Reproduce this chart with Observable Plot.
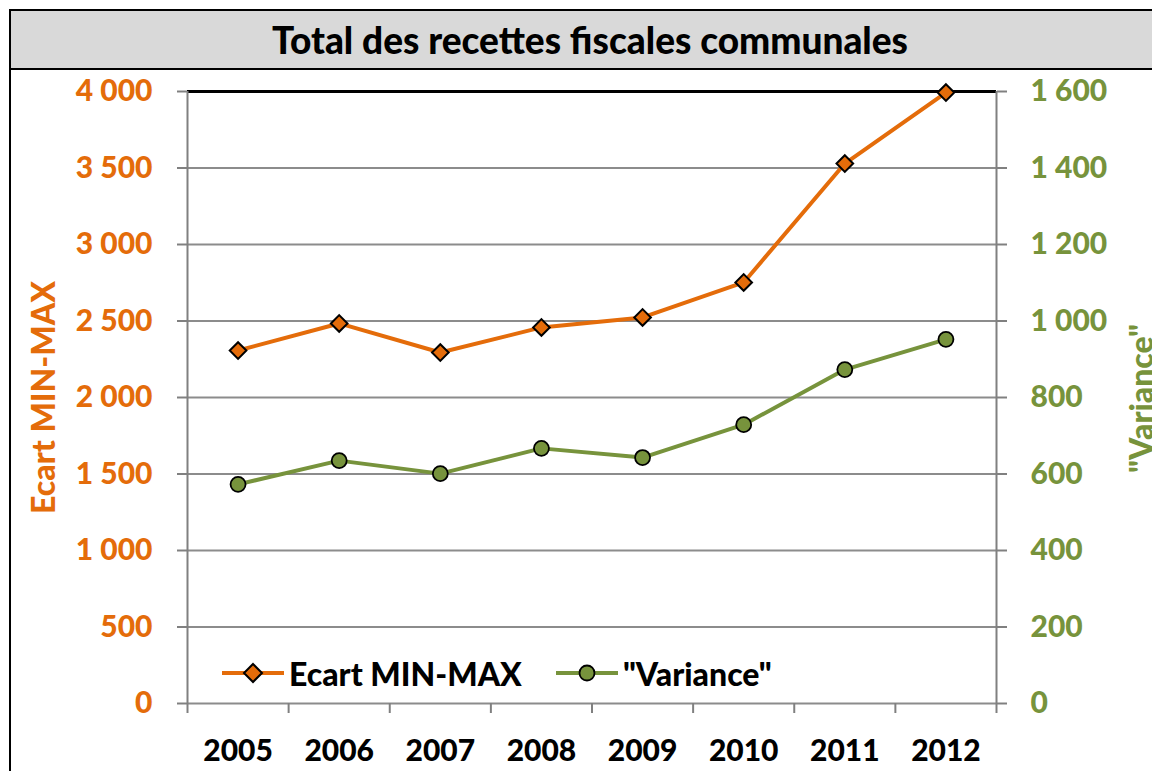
<!DOCTYPE html>
<html>
<head>
<meta charset="utf-8">
<script src="https://cdn.jsdelivr.net/npm/d3@7"></script>
<script src="https://cdn.jsdelivr.net/npm/@observablehq/plot@0.6"></script>
<style>
  html, body { margin: 0; padding: 0; background: #fff; }
  #wrap { position: relative; width: 1152px; height: 771px; overflow: hidden; font-family: Lato, "Open Sans", sans-serif; font-weight: 900; }
  #frame { position: absolute; left: 9px; top: 9px; width: 1200px; height: 800px; border-left: 2px solid #000; border-top: 2px solid #000; box-sizing: border-box; }
  #title { position: absolute; left: 9px; top: 9px; width: 1200px; height: 61px; background: #d9d9d9; border-top: 2px solid #000; border-left: 2px solid #000; border-bottom: 2px solid #000; box-sizing: border-box; }
  #title span { position: absolute; left: 0; width: 1158px; top: 0; height: 57px; line-height: 57px; text-align: center; font-size: 37px; color: #000; }
  #chart { position: absolute; left: 0; top: 70px; }
  .ylab { position: absolute; font-size: 32px; white-space: nowrap; transform-origin: center center; }
  #legend { position: absolute; top: 655px; left: 222px; height: 36px; display: flex; align-items: center; font-size: 32px; color: #000; }
  #legend .item { display: flex; align-items: center; margin-right: 34px; }
  #legend svg { margin-right: 5px; }
</style>
</head>
<body>
<div id="wrap">
  <div id="frame"></div>
  <div id="title"><span></span></div>
  <div id="chart"></div>
  <div id="ylabL" class="ylab"></div>
  <div id="ylabR" class="ylab"></div>
  <div id="legend"></div>
</div>
<script>
// ---- data ----
const titleText = "Total des recettes fiscales communales";
const years = [2005, 2006, 2007, 2008, 2009, 2010, 2011, 2012];
const ecart = [2307, 2484, 2294, 2458, 2523, 2752, 3529, 3993];
const variance = [573, 635, 601, 667, 643, 729, 873, 952];
const leftTicks = [0, 500, 1000, 1500, 2000, 2500, 3000, 3500, 4000];
const rightTicks = [0, 200, 400, 600, 800, 1000, 1200, 1400, 1600];
const seriesNames = ["Ecart MIN-MAX", "\"Variance\""];
const axisTitles = ["Ecart MIN-MAX", "\"Variance\""];

const orange = "#E46C0A";
const green = "#77933C";
const gridGray = "#8c8c8c";
const axisGray = "#808080";

const leftMax = 4000, rightMax = 1600;
const k = leftMax / rightMax;

const fmt = d3.formatLocale({decimal: ",", thousands: "\u00a0", grouping: [3], currency: ["", ""]}).format(",");

const rowsE = years.map((y, i) => ({year: y, v: ecart[i]}));
const rowsV = years.map((y, i) => ({year: y, v: variance[i] * k}));
const bounds = [years[0] - 0.5, ...years.map(y => y + 0.5)];

document.querySelector("#title span").textContent = titleText;

const font = "Lato, 'Open Sans', sans-serif";

const chart = Plot.plot({
  width: 1152,
  height: 701,
  marginTop: 21,
  marginBottom: 68,
  marginLeft: 187,
  marginRight: 156,
  style: {fontFamily: font, fontWeight: "900", fontSize: "30px", background: "transparent", overflow: "visible"},
  x: {type: "linear", domain: [bounds[0], bounds[bounds.length - 1]]},
  y: {domain: [0, leftMax]},
  marks: [
    Plot.ruleY(leftTicks.filter(d => d < leftMax), {stroke: gridGray, strokeWidth: 2}),
    Plot.ruleY([leftMax], {stroke: "#000", strokeWidth: 3}),
    Plot.ruleX([bounds[0], bounds[bounds.length - 1]], {stroke: axisGray, strokeWidth: 2}),
    Plot.axisY({anchor: "left", ticks: leftTicks, tickSize: 10, tickPadding: 25, tickFormat: fmt, stroke: axisGray, strokeWidth: 2, fill: orange, fontSize: 30, fontWeight: "900", label: null}),
    Plot.axisY({anchor: "right", ticks: rightTicks.map(d => d * k), tickSize: 10, tickPadding: 24, tickFormat: d => fmt(d / k), stroke: axisGray, strokeWidth: 2, fill: green, fontSize: 30, fontWeight: "900", label: null}),
    Plot.axisX({anchor: "bottom", ticks: bounds, tickSize: 10, tickFormat: () => "", stroke: axisGray, strokeWidth: 2, label: null}),
    Plot.axisX({anchor: "bottom", ticks: years, tickSize: 0, tickPadding: 36, tickFormat: d => String(d), fill: "#000", fontSize: 30, fontWeight: "900", label: null}),
    Plot.line(rowsE, {x: "year", y: "v", stroke: orange, strokeWidth: 4}),
    Plot.line(rowsV, {x: "year", y: "v", stroke: green, strokeWidth: 4}),
    Plot.dot(rowsE, {x: "year", y: "v", symbol: "diamond2", r: 7.5, fill: orange, stroke: "#000", strokeWidth: 2}),
    Plot.dot(rowsV, {x: "year", y: "v", symbol: "circle", r: 7.5, fill: green, stroke: "#000", strokeWidth: 1.8})
  ]
});
document.getElementById("chart").appendChild(chart);

// axis titles (rotated)
const L = document.getElementById("ylabL");
L.textContent = axisTitles[0];
L.style.color = orange;
const R = document.getElementById("ylabR");
R.textContent = axisTitles[1];
R.style.color = green;
function placeRot(el, cx, cy) {
  const w = el.offsetWidth, h = el.offsetHeight;
  el.style.left = (cx - w / 2) + "px";
  el.style.top = (cy - h / 2) + "px";
  el.style.transform = "rotate(-90deg)";
}
placeRot(L, 42, 397);
placeRot(R, 1140, 398);

// legend
const legend = document.getElementById("legend");
function legendItem(name, color, symbol) {
  const item = document.createElement("div");
  item.className = "item";
  const s = d3.create("svg").attr("width", 62).attr("height", 24);
  s.append("line").attr("x1", 0).attr("x2", 62).attr("y1", 12).attr("y2", 12).attr("stroke", color).attr("stroke-width", 4);
  if (symbol === "diamond") {
    s.append("path").attr("d", "M31,3 L40,12 L31,21 L22,12 Z").attr("fill", color).attr("stroke", "#000").attr("stroke-width", 2);
  } else {
    s.append("circle").attr("cx", 31).attr("cy", 12).attr("r", 7.5).attr("fill", color).attr("stroke", "#000").attr("stroke-width", 1.8);
  }
  item.appendChild(s.node());
  const t = document.createElement("span");
  t.textContent = name;
  item.appendChild(t);
  legend.appendChild(item);
}
legendItem(seriesNames[0], orange, "diamond");
legendItem(seriesNames[1], green, "circle");
</script>
</body>
</html>
